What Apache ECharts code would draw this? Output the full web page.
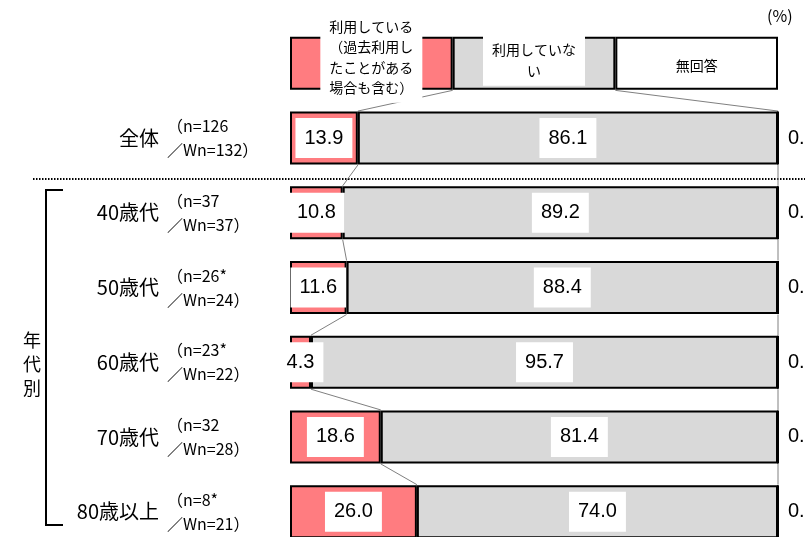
<!DOCTYPE html>
<html><head><meta charset="utf-8">
<script src="https://cdn.jsdelivr.net/npm/echarts@6/dist/echarts.min.js"></script>
<style>html,body{margin:0;padding:0;background:#fff}#c{width:805px;height:537px}</style>
</head><body><div id="c"></div>
<script>
const categories = ['', '全体', '40歳代', '50歳代', '60歳代', '70歳代', '80歳以上'];
const sampleLabels = ['', '（n=126\n／Wn=132）', '（n=37\n／Wn=37）', '（n=26*\n／Wn=24）', '（n=23*\n／Wn=22）', '（n=32\n／Wn=28）', '（n=8*\n／Wn=21）'];
const seriesNames = ['利用している（過去利用したことがある場合も含む）', '利用していない', '無回答'];
const legendLabels = ['利用している\n（過去利用し\nたことがある\n場合も含む）', '利用していな\nい', '無回答'];
const legendShare = [100 / 3, 100 / 3, 100 / 3];
const using = [13.9, 10.8, 11.6, 4.3, 18.6, 26.0];
const notUsing = [86.1, 89.2, 88.4, 95.7, 81.4, 74.0];
const noAnswer = [0.0, 0.0, 0.0, 0.0, 0.0, 0.0];
const colors = ['#FF7C80', '#D9D9D9', '#FFFFFF'];

const FONT = '"Noto Sans CJK JP", "Liberation Sans", sans-serif';
const HALF = 27;

const numLabel = {
  color: '#000', fontSize: 20, fontFamily: 'Liberation Sans, sans-serif',
  backgroundColor: '#fff', padding: [10, 9, 8, 9], lineHeight: 22
};

function barSeries(idx, values) {
  const legendItem = {
    value: legendShare[idx],
    label: {
      position: 'inside', fontSize: 14, lineHeight: 20.5, fontFamily: FONT,
      backgroundColor: idx < 2 ? '#fff' : 'transparent',
      padding: idx === 0 ? [5, 9, 4, 9] : [5, 9, 5, 9],
      offset: idx === 0 ? [0, -6] : (idx === 1 ? [0, -3] : [0, 2])
    }
  };
  const rows = values.map(v => idx === 2
    ? { value: v, label: { position: 'right', distance: 9, backgroundColor: 'transparent', padding: 0 } }
    : { value: v });
  return {
    name: seriesNames[idx], type: 'bar', stack: 'total', barWidth: 53,
    itemStyle: { color: colors[idx], borderColor: '#000', borderWidth: 2 },
    z: 3,
    label: Object.assign({ show: true, position: 'inside',
      formatter: p => p.dataIndex === 0 ? legendLabels[idx] : p.value.toFixed(1) }, numLabel),
    data: [legendItem].concat(rows)
  };
}

const b1 = [legendShare[0]].concat(using);
const b2 = [legendShare[0] + legendShare[1]].concat(using.map((v, i) => v + notUsing[i]));
const connectorData = [];
for (let i = 0; i < b1.length - 1; i++) {
  connectorData.push([b1[i], b1[i + 1], i]);
  connectorData.push([b2[i], b2[i + 1], i]);
}

const chart = echarts.init(document.getElementById('c'));
chart.setOption({
  animation: false,
  backgroundColor: '#fff',
  textStyle: { fontFamily: FONT },
  grid: { left: 290, width: 488, top: 26, height: 523, outerBoundsMode: 'none', containLabel: false },
  xAxis: { type: 'value', min: 0, max: 100, show: false },
  yAxis: [
    { type: 'category', inverse: true, data: categories, position: 'left',
      axisLine: { show: false }, axisTick: { show: false },
      axisLabel: { margin: 131, fontSize: 20, color: '#000', fontFamily: FONT, padding: [9, 0, 0, 0] } },
    { type: 'category', inverse: true, data: sampleLabels, position: 'left',
      axisLine: { show: false }, axisTick: { show: false },
      axisLabel: { margin: 123, align: 'left', fontSize: 16, lineHeight: 24, color: '#000', fontFamily: FONT, padding: [8, 0, 0, 0] } }
  ],
  series: [
    barSeries(0, using),
    barSeries(1, notUsing),
    barSeries(2, noAnswer),
    {
      type: 'custom', z: 1, silent: true,
      encode: { x: [0, 1], y: 2 },
      data: connectorData,
      renderItem: (params, api) => {
        const r = api.value(2);
        const a = api.coord([api.value(0), r]);
        const b = api.coord([api.value(1), r + 1]);
        return { type: 'line', shape: { x1: a[0], y1: a[1] + HALF, x2: b[0], y2: b[1] - HALF },
          style: { stroke: '#808080', lineWidth: 1 } };
      }
    }
  ],
  graphic: [
    { type: 'line', shape: { x1: 33, y1: 179, x2: 805, y2: 179 }, style: { stroke: '#000', lineWidth: 2, lineDash: [1.5, 1.5] } },
    { type: 'polyline', shape: { points: [[63, 190], [46, 190], [46, 525], [63, 525]] }, style: { stroke: '#000', lineWidth: 2, fill: 'none' } },
    { type: 'text', left: 23, top: 328, style: { text: '年\n代\n別', fontSize: 18, lineHeight: 24, fill: '#000', fontFamily: FONT } },
    { type: 'text', left: 767, top: 8, style: { text: '(%)', fontSize: 16, fill: '#000', fontFamily: FONT } }
  ]
});
</script>
</body></html>
